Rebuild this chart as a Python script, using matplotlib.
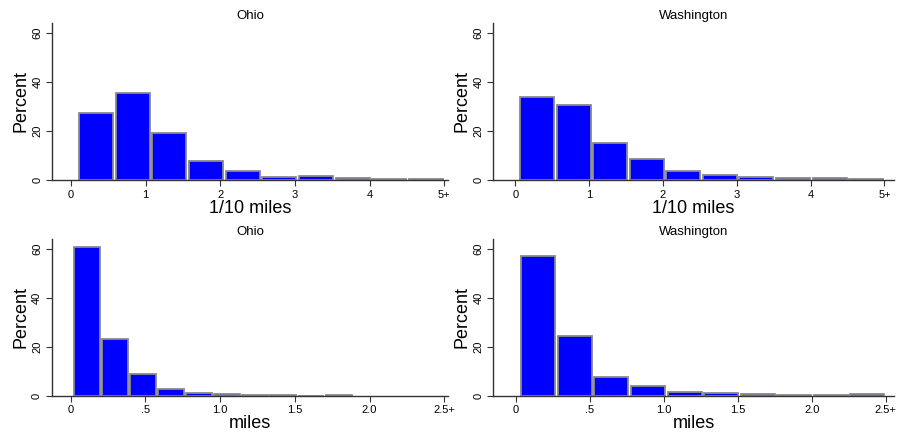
import numpy as np
import matplotlib
matplotlib.use('Agg')
from matplotlib import pyplot as plt

plt.rcParams['font.family'] = ['Liberation Sans', 'DejaVu Sans']

# Histogram data (percent per bin)
ohio_tenth = [27.5, 35.7, 19.1, 7.6, 3.8, 1.1, 1.6, 0.8, 0.4, 0.4]
wash_tenth = [34.1, 30.7, 15.3, 8.7, 3.8, 2.2, 1.2, 0.8, 0.8, 0.4]
ohio_miles = [61.1, 23.3, 8.9, 2.9, 1.2, 0.8, 0.4, 0.2, 0.0, 0.1]
wash_miles = [57.3, 24.6, 7.8, 4.1, 1.6, 1.2, 0.8, 0.4, 0.4, 0.8]

# bin ranges (first left edge, last right edge)
ohio_tenth_range = (0.09, 5.0)
wash_tenth_range = (0.045, 5.0)
ohio_miles_range = (0.018, 1.89)
wash_miles_range = (0.03, 2.5)

tenth_ticks = [0, 1, 2, 3, 4, 5]
tenth_labels = ['0', '1', '2', '3', '4', '5+']
miles_ticks = [0, 0.5, 1.0, 1.5, 2.0, 2.5]
miles_labels = ['0', '.5', '1.0', '1.5', '2.0', '2.5+']
y_ticks = [0, 20, 40, 60]

fig = plt.figure(figsize=(9.03, 4.36), dpi=100)

panels = [
    # pixel box, title, values, range, xlim, ticks, labels, xlabel
    ([52, 448, 22.7, 180], 'Ohio', ohio_tenth, ohio_tenth_range, (-0.255, 5.05), tenth_ticks, tenth_labels, '1/10 miles'),
    ([493.3, 894, 22.7, 180], 'Washington', wash_tenth, wash_tenth_range, (-0.30, 5.13), tenth_ticks, tenth_labels, '1/10 miles'),
    ([51.7, 448, 238.7, 395.7], 'Ohio', ohio_miles, ohio_miles_range, (-0.127, 2.525), miles_ticks, miles_labels, 'miles'),
    ([493.3, 894.3, 238.7, 395.7], 'Washington', wash_miles, wash_miles_range, (-0.151, 2.558), miles_ticks, miles_labels, 'miles'),
]

W, H = 903.0, 436.0
for (x0, x1, y0, y1), title, vals, (lo, hi), xlim, ticks, labels, xlabel in panels:
    ax = fig.add_axes([x0 / W, 1 - y1 / H, (x1 - x0) / W, (y1 - y0) / H])
    n = len(vals)
    bw = (hi - lo) / n
    lefts = lo + bw * np.arange(n)
    gap = 0.07 * bw
    ax.bar(lefts + gap / 2, vals, width=bw - gap, align='edge',
           color='#0000ff', edgecolor='#8a8a8a', linewidth=1.3)
    ax.set_xlim(*xlim)
    ax.set_ylim(0, 64.3)
    ax.set_xticks(ticks)
    ax.set_xticklabels(labels)
    ax.set_yticks(y_ticks)
    ax.set_yticklabels([str(t) for t in y_ticks], rotation=90, va='center')
    for s in ['top', 'right']:
        ax.spines[s].set_visible(False)
    for s in ['left', 'bottom']:
        ax.spines[s].set_color('#333333')
        ax.spines[s].set_linewidth(1.0)
    ax.tick_params(labelsize=8, length=4, color='#333333', pad=3)
    ax.set_title(title, fontsize=9.5, pad=3)
    ax.set_xlabel(xlabel, fontsize=13, labelpad=0)
    ax.set_ylabel('Percent', fontsize=13, labelpad=2)

fig.savefig('out.png', dpi=100)
